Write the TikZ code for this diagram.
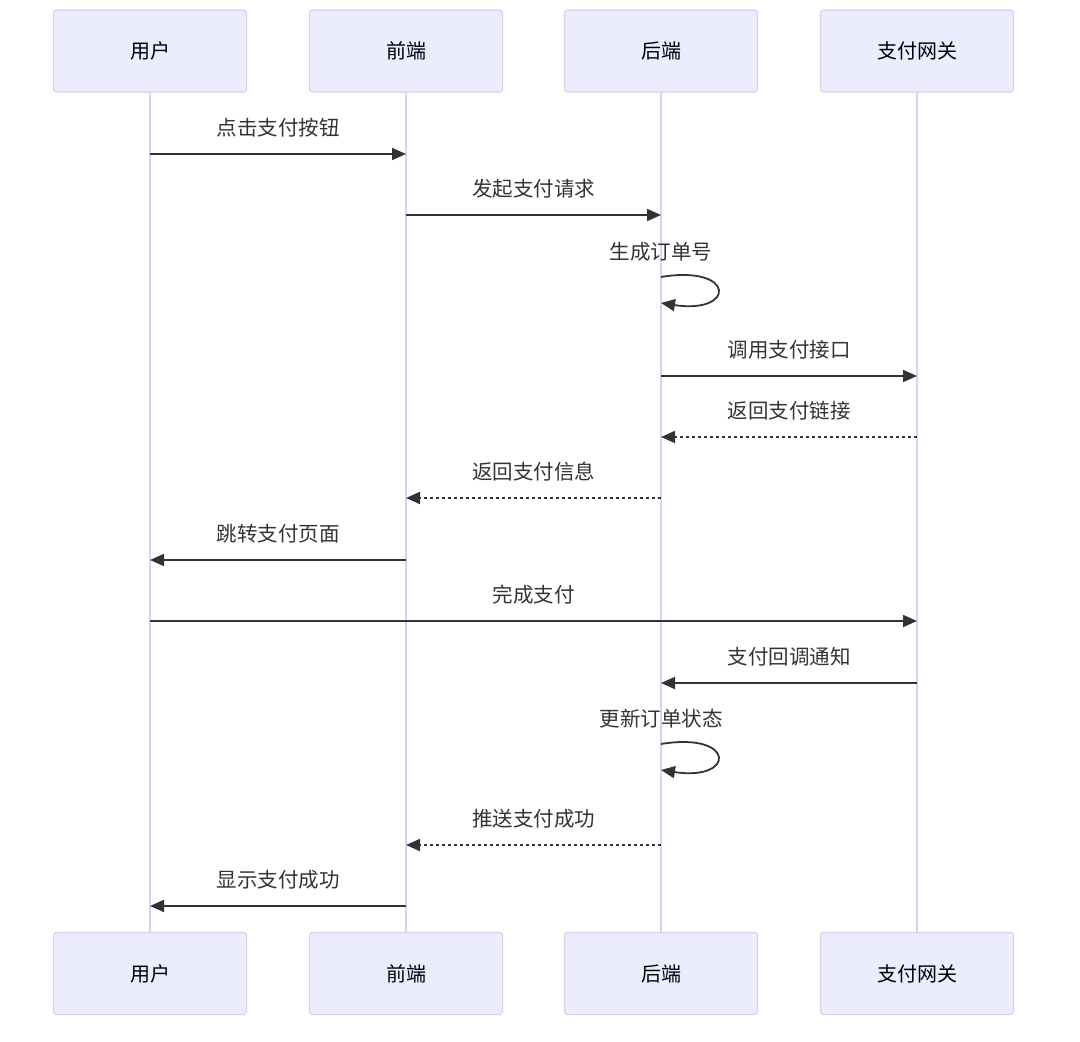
\documentclass[tikz,border=0pt]{standalone}
\usepackage{fontspec}
\setmainfont{Noto Sans CJK SC}
\usepackage{xcolor}
\usetikzlibrary{arrows.meta,calc}

\definecolor{actorfill}{HTML}{ECECFF}
\definecolor{actorline}{HTML}{DAD0F2}
\definecolor{msgcolor}{HTML}{333333}

\tikzset{
    actor/.style={draw=actorline, line width=1.2pt, fill=actorfill, rounded corners=3pt,
        minimum width=193pt, minimum height=82pt, text=black, font=\fontsize{20}{24}\selectfont},
    lifeline/.style={draw=actorline, line width=1.8pt},
    msg/.style={draw=msgcolor, line width=1.8pt, -{Triangle[length=14pt,width=12pt]}},
    reply/.style={msg, dash pattern=on 3pt off 3pt},
    lbl/.style={text=msgcolor, font=\fontsize{20.5}{24}\selectfont, inner sep=0pt}
}

\begin{document}
\begin{tikzpicture}[x=1pt, y=-1pt]
    \useasboundingbox (0,0) rectangle (1080,1042);

    % Actors on top
    \node[actor] (userTop) at (150,51) {用户};
    \node[actor] (frontTop) at (406,51) {前端};
    \node[actor] (backTop) at (661,51) {后端};
    \node[actor] (payTop) at (917,51) {支付网关};

    % Actors at the bottom
    \node[actor] (userBot) at (150,973.5) {用户};
    \node[actor] (frontBot) at (406,973.5) {前端};
    \node[actor] (backBot) at (661,973.5) {后端};
    \node[actor] (payBot) at (917,973.5) {支付网关};

    % Lifelines
    \draw[lifeline] (userTop.south) -- (userBot.north);
    \draw[lifeline] (frontTop.south) -- (frontBot.north);
    \draw[lifeline] (backTop.south) -- (backBot.north);
    \draw[lifeline] (payTop.south) -- (payBot.north);

    % Points on the lifelines
    \coordinate (u1) at (150,154);  \coordinate (f1) at (406,154);
    \coordinate (f2) at (406,215);  \coordinate (b2) at (661,215);
    \coordinate (b3) at (661,277);  \coordinate (b3e) at (661,303);
    \coordinate (b4) at (661,376);  \coordinate (g4) at (917,376);
    \coordinate (g5) at (917,437);  \coordinate (b5) at (661,437);
    \coordinate (b6) at (661,498);  \coordinate (f6) at (406,498);
    \coordinate (f7) at (406,560);  \coordinate (u7) at (150,560);
    \coordinate (u8) at (150,621);  \coordinate (g8) at (917,621);
    \coordinate (g9) at (917,683);  \coordinate (b9) at (661,683);
    \coordinate (b10) at (661,744); \coordinate (b10e) at (661,770);
    \coordinate (b11) at (661,845); \coordinate (f11) at (406,845);
    \coordinate (f12) at (406,906); \coordinate (u12) at (150,906);

    % Messages
    \draw[msg] (u1) -- node[lbl, midway, yshift=26pt] (m1) {点击支付按钮} (f1);
    \draw[msg] (f2) -- node[lbl, midway, yshift=26pt] (m2) {发起支付请求} (b2);
    \draw[msg] (b3) .. controls ($(b3)+(75,-12.5)$) and ($(b3)+(75,37.5)$) .. (b3e);
    \node[lbl, yshift=25pt] (m3) at (b3) {生成订单号};
    \draw[msg] (b4) -- node[lbl, midway, yshift=26pt] (m4) {调用支付接口} (g4);
    \draw[reply] (g5) -- node[lbl, midway, yshift=26pt] (m5) {返回支付链接} (b5);
    \draw[reply] (b6) -- node[lbl, midway, yshift=26pt] (m6) {返回支付信息} (f6);
    \draw[msg] (f7) -- node[lbl, midway, yshift=26pt] (m7) {跳转支付页面} (u7);
    \draw[msg] (u8) -- node[lbl, midway, yshift=26pt] (m8) {完成支付} (g8);
    \draw[msg] (g9) -- node[lbl, midway, yshift=26pt] (m9) {支付回调通知} (b9);
    \draw[msg] (b10) .. controls ($(b10)+(75,-12.5)$) and ($(b10)+(75,37.5)$) .. (b10e);
    \node[lbl, yshift=25pt] (m10) at (b10) {更新订单状态};
    \draw[reply] (b11) -- node[lbl, midway, yshift=26pt] (m11) {推送支付成功} (f11);
    \draw[msg] (f12) -- node[lbl, midway, yshift=26pt] (m12) {显示支付成功} (u12);
\end{tikzpicture}
\end{document}
